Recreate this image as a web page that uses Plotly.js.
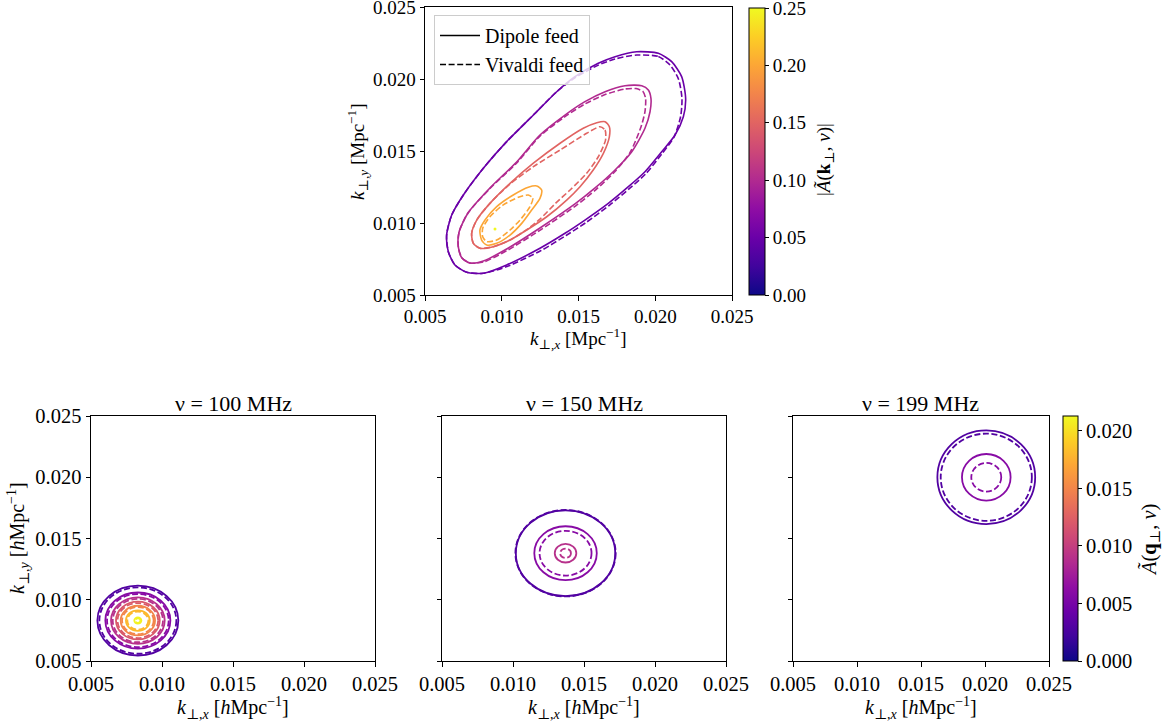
<!DOCTYPE html>
<html>
<head>
<meta charset="utf-8">
<script src="https://cdn.plot.ly/plotly-3.0.1.min.js"></script>
<style>html,body{margin:0;padding:0;background:#fff;}#chart{width:1166px;height:721px;}</style>
</head>
<body>
<div id="chart"></div>
<script>
// ---------- Top panel: contour levels of |A(k,nu)| ----------
const topLevels = [0.05, 0.10, 0.15, 0.20, 0.25];

// level 0.05
const dip05X = [0.01879,0.02020,0.02107,0.02172,0.02198,0.02183,0.02129,0.02042,0.01933,0.01825,0.01694,0.01542,0.01412,0.01249,0.01032,0.00880,0.00772,0.00695,0.00652,0.00641,0.00674,0.00750,0.00880,0.01032,0.01206,0.01358,0.01477,0.01629,0.01738,0.01879];
const dip05Y = [0.02191,0.02180,0.02122,0.02018,0.01867,0.01739,0.01612,0.01496,0.01357,0.01253,0.01137,0.01021,0.00929,0.00825,0.00709,0.00651,0.00658,0.00709,0.00801,0.00917,0.01056,0.01195,0.01381,0.01566,0.01751,0.01913,0.02018,0.02111,0.02157,0.02191];
const viv05X = [0.01879,0.02020,0.02096,0.02151,0.02174,0.02165,0.02122,0.02042,0.01937,0.01829,0.01699,0.01549,0.01419,0.01256,0.01034,0.00880,0.00772,0.00695,0.00652,0.00641,0.00674,0.00750,0.00880,0.01032,0.01206,0.01358,0.01477,0.01629,0.01738,0.01879];
const viv05Y = [0.02168,0.02158,0.02099,0.02002,0.01867,0.01739,0.01598,0.01480,0.01341,0.01237,0.01122,0.01004,0.00914,0.00809,0.00698,0.00651,0.00658,0.00709,0.00801,0.00917,0.01056,0.01195,0.01381,0.01566,0.01751,0.01913,0.02010,0.02098,0.02141,0.02168];

// level 0.10
const dip10X = [0.01912,0.01955,0.01972,0.01966,0.01933,0.01847,0.01738,0.01608,0.01477,0.01249,0.01032,0.00880,0.00793,0.00741,0.00717,0.00722,0.00780,0.00923,0.01097,0.01249,0.01412,0.01542,0.01673,0.01803,0.01912];
const dip10Y = [0.01955,0.01925,0.01867,0.01774,0.01659,0.01496,0.01369,0.01244,0.01133,0.00966,0.00820,0.00736,0.00722,0.00757,0.00834,0.00938,0.01070,0.01244,0.01425,0.01612,0.01751,0.01844,0.01913,0.01955,0.01955];
const viv10X = [0.01875,0.01920,0.01937,0.01933,0.01907,0.01836,0.01738,0.01614,0.01484,0.01256,0.01034,0.00880,0.00793,0.00741,0.00717,0.00722,0.00780,0.00923,0.01099,0.01249,0.01412,0.01542,0.01673,0.01803,0.01875];
const viv10Y = [0.01935,0.01915,0.01867,0.01774,0.01668,0.01491,0.01359,0.01233,0.01122,0.00955,0.00809,0.00729,0.00722,0.00757,0.00834,0.00938,0.01070,0.01240,0.01420,0.01605,0.01740,0.01828,0.01893,0.01932,0.01935];

// level 0.15
const dip15X = [0.01673,0.01701,0.01701,0.01662,0.01596,0.01510,0.01423,0.01293,0.01163,0.01054,0.00945,0.00858,0.00815,0.00804,0.00837,0.00923,0.01054,0.01206,0.01380,0.01531,0.01619,0.01673];
const dip15Y = [0.01705,0.01670,0.01600,0.01485,0.01369,0.01253,0.01160,0.01044,0.00952,0.00882,0.00836,0.00825,0.00859,0.00929,0.01021,0.01137,0.01276,0.01416,0.01555,0.01659,0.01698,0.01705];
const viv15X = [0.01640,0.01673,0.01676,0.01629,0.01553,0.01445,0.01353,0.01249,0.01163,0.01054,0.00945,0.00858,0.00815,0.00804,0.00837,0.00923,0.01054,0.01206,0.01380,0.01553,0.01640];
const viv15Y = [0.01670,0.01647,0.01577,0.01461,0.01346,0.01230,0.01140,0.01028,0.00955,0.00882,0.00836,0.00825,0.00859,0.00929,0.01021,0.01137,0.01272,0.01392,0.01508,0.01624,0.01670];

// level 0.20
const dip20X = [0.01228,0.01260,0.01249,0.01195,0.01130,0.01054,0.00967,0.00902,0.00869,0.00858,0.00891,0.00967,0.01075,0.01173,0.01228];
const dip20Y = [0.01258,0.01230,0.01172,0.01091,0.00998,0.00917,0.00859,0.00848,0.00882,0.00952,0.01021,0.01114,0.01195,0.01249,0.01258];
const viv20X = [0.01173,0.01202,0.01184,0.01119,0.01054,0.00967,0.00902,0.00876,0.00876,0.00923,0.01010,0.01108,0.01173];
const viv20Y = [0.01195,0.01172,0.01114,0.01021,0.00952,0.00882,0.00871,0.00905,0.00964,0.01044,0.01126,0.01179,0.01195];

// level 0.25 (tiny peak)
const dip25X = [0.00956];
const dip25Y = [0.00959];

// ---------- Bottom panels: contour levels of A(q,nu) ----------
const bottomLevels = [0.003, 0.006, 0.009, 0.012, 0.015, 0.018, 0.021];
const p100Center = [0.0083, 0.0083];
const p100DipoleR = [0.00285, 0.00229, 0.00189, 0.00154, 0.00121, 0.00084, 0.00025];
const p100VivaldiR = [0.00271, 0.00217, 0.00177, 0.00143, 0.00111, 0.00074, 0.00018];
const p150Center = [0.0137, 0.0138];
const p150DipoleR = [0.00350, 0.00220, 0.00076];
const p150VivaldiR = [0.00353, 0.00183, 0.00038];
const p199Center = [0.0201, 0.0200];
const p199DipoleR = [0.00382, 0.00190];
const p199VivaldiR = [0.00356, 0.00117];

const panelTitles = ['\u03BD = 100 MHz', '\u03BD = 150 MHz', '\u03BD = 199 MHz'];
const tickVals = [0.005, 0.010, 0.015, 0.020, 0.025];
const tickText = ['0.005', '0.010', '0.015', '0.020', '0.025'];
const topCbVals = [0, 0.05, 0.10, 0.15, 0.20, 0.25];
const topCbText = ['0.00', '0.05', '0.10', '0.15', '0.20', '0.25'];
const botCbVals = [0, 0.005, 0.010, 0.015, 0.020];
const botCbText = ['0.000', '0.005', '0.010', '0.015', '0.020'];
const topCmax = 0.25;
const botCmax = 0.0213;

// ---------- styling ----------
const FONT = 'Liberation Serif, DejaVu Serif, serif';
const plasma = [[0,'#0d0887'],[0.1,'#41049d'],[0.2,'#6a00a8'],[0.3,'#8f0da4'],[0.4,'#b12a90'],[0.5,'#cc4778'],[0.6,'#e16462'],[0.7,'#f2844b'],[0.8,'#fca636'],[0.9,'#fcce25'],[1,'#f0f921']];
const topColors = ['#6a00a8', '#b12a90', '#e16462', '#fca636', '#f0f921'];
const botColors = ['rgb(82,2,162)', 'rgb(136,11,165)', 'rgb(183,49,139)', 'rgb(217,89,106)', 'rgb(242,133,74)', 'rgb(252,184,46)', 'rgb(242,243,34)'];
const DASH = '6px,2.6px';

const traces = [];
function contourLine(x, y, color, dash) {
  traces.push({type:'scatter', mode:'lines', x:x, y:y, xaxis:'x', yaxis:'y',
    line:{color:color, width:1.6, dash:dash, shape:'spline', smoothing:0.7},
    hoverinfo:'skip', showlegend:false});
}
contourLine(dip05X, dip05Y, topColors[0], 'solid');
contourLine(viv05X, viv05Y, topColors[0], DASH);
contourLine(dip10X, dip10Y, topColors[1], 'solid');
contourLine(viv10X, viv10Y, topColors[1], DASH);
contourLine(dip15X, dip15Y, topColors[2], 'solid');
contourLine(viv15X, viv15Y, topColors[2], DASH);
contourLine(dip20X, dip20Y, topColors[3], 'solid');
contourLine(viv20X, viv20Y, topColors[3], DASH);
traces.push({type:'scatter', mode:'markers', x:dip25X, y:dip25Y, xaxis:'x', yaxis:'y',
  marker:{color:topColors[4], size:3}, hoverinfo:'skip', showlegend:false});

// legend entries
traces.push({type:'scatter', mode:'lines', x:[null], y:[null], xaxis:'x', yaxis:'y', name:'Dipole feed',
  line:{color:'black', width:1.6}});
traces.push({type:'scatter', mode:'lines', x:[null], y:[null], xaxis:'x', yaxis:'y', name:'Vivaldi feed',
  line:{color:'black', width:1.6, dash:DASH}});

// colorbar holders
traces.push({type:'scatter', mode:'markers', x:[null], y:[null], xaxis:'x', yaxis:'y',
  marker:{color:[0], coloraxis:'coloraxis'}, showlegend:false, hoverinfo:'skip'});
traces.push({type:'scatter', mode:'markers', x:[null], y:[null], xaxis:'x4', yaxis:'y4',
  marker:{color:[0], coloraxis:'coloraxis2'}, showlegend:false, hoverinfo:'skip'});
['x2','x3','x4'].forEach(function(ax, i){
  traces.push({type:'scatter', mode:'markers', x:[null], y:[null], xaxis:ax, yaxis:'y'+(i+2), showlegend:false, hoverinfo:'skip'});
});

const shapes = [];
function rings(center, radii, xref, yref, dash) {
  radii.forEach(function(r, i){
    shapes.push({type:'circle', xref:xref, yref:yref, layer:'above',
      x0:center[0]-r, x1:center[0]+r, y0:center[1]-r, y1:center[1]+r,
      line:{color:botColors[i], width:1.8, dash:dash}});
  });
}
rings(p100Center, p100DipoleR, 'x2', 'y2', 'solid');
rings(p100Center, p100VivaldiR, 'x2', 'y2', DASH);
rings(p150Center, p150DipoleR, 'x3', 'y3', 'solid');
rings(p150Center, p150VivaldiR, 'x3', 'y3', DASH);
rings(p199Center, p199DipoleR, 'x4', 'y4', 'solid');
rings(p199Center, p199VivaldiR, 'x4', 'y4', DASH);

function axis(domain, fsize, showLabels, anchor) {
  return {domain:domain, range:[0.005, 0.025], anchor:anchor, tickvals:tickVals, ticktext:tickText,
    ticks:'outside', ticklen:4.5, tickwidth:1, tickcolor:'black', showline:true, linecolor:'black',
    linewidth:1, mirror:true, showgrid:false, zeroline:false, showticklabels:showLabels,
    ticklabeloverflow:'allow', automargin:false,
    tickfont:{family:FONT, size:fsize, color:'black'}, fixedrange:true};
}
const H = 721, W = 1166;
const botY = [1 - 661/H, 1 - 416/H];
function ann(text, px, py, size, angle) {
  return {text:text, xref:'paper', yref:'paper', x:px/W, y:1 - py/H, xanchor:'center', yanchor:'middle',
    textangle:angle || 0, showarrow:false, font:{family:FONT, size:size, color:'black'}};
}
const layout = {
  width:W, height:H, margin:{l:0, r:0, t:0, b:0, autoexpand:false}, paper_bgcolor:'white', plot_bgcolor:'white',
  font:{family:FONT, color:'black'},
  xaxis: axis([425/W, 732/W], 19, true, 'y'),
  yaxis: axis([1 - 295/H, 1 - 7.3/H], 19, true, 'x'),
  xaxis2: axis([91/W, 375/W], 20.5, true, 'y2'),
  yaxis2: axis(botY, 20.5, true, 'x2'),
  xaxis3: axis([442/W, 726/W], 20.5, true, 'y3'),
  yaxis3: axis(botY, 20.5, false, 'x3'),
  xaxis4: axis([793/W, 1049/W], 20.5, true, 'y4'),
  yaxis4: axis(botY, 20.5, false, 'x4'),
  coloraxis: {colorscale:plasma, cmin:0, cmax:topCmax, showscale:true,
    colorbar:{thickness:16, thicknessmode:'pixels', len:287, lenmode:'pixels',
      x:749/W, xanchor:'left', y:1 - 295/H, yanchor:'bottom', xpad:0, ypad:0,
      outlinewidth:1, outlinecolor:'black', ticks:'outside', ticklen:4, tickcolor:'black',
      ticklabeloverflow:'allow',
      tickvals:topCbVals, ticktext:topCbText, tickfont:{family:FONT, size:19, color:'black'}}},
  coloraxis2: {colorscale:plasma, cmin:0, cmax:botCmax, showscale:true,
    colorbar:{thickness:15, thicknessmode:'pixels', len:245, lenmode:'pixels',
      x:1063/W, xanchor:'left', y:1 - 661/H, yanchor:'bottom', xpad:0, ypad:0,
      outlinewidth:1, outlinecolor:'black', ticks:'outside', ticklen:4, tickcolor:'black',
      ticklabeloverflow:'allow',
      tickvals:botCbVals, ticktext:botCbText, tickfont:{family:FONT, size:20.5, color:'black'}}},
  legend:{x:434/W, y:1 - 15/H, xanchor:'left', yanchor:'top', bgcolor:'rgba(255,255,255,0.8)',
    bordercolor:'#cccccc', borderwidth:1, font:{family:FONT, size:20, color:'black'}, tracegroupgap:0,
    itemwidth:40},
  showlegend:true,
  shapes:shapes,
  annotations:[
    ann('<i>k</i><sub>\u22A5,<i>x</i></sub> [Mpc<sup>\u22121</sup>]', 578, 338, 19),
    ann('<i>k</i><sub>\u22A5,<i>y</i></sub> [Mpc<sup>\u22121</sup>]', 357, 152, 19, -90),
    ann('|<i>\u00C3</i>(<b>k</b><sub>\u22A5</sub>, <i>\u03BD</i>)|', 825, 160, 19, -90),
    ann('<i>k</i><sub>\u22A5,<i>x</i></sub> [<i>h</i>Mpc<sup>\u22121</sup>]', 233, 708, 20),
    ann('<i>k</i><sub>\u22A5,<i>x</i></sub> [<i>h</i>Mpc<sup>\u22121</sup>]', 584, 708, 20),
    ann('<i>k</i><sub>\u22A5,<i>x</i></sub> [<i>h</i>Mpc<sup>\u22121</sup>]', 921, 708, 20),
    ann('<i>k</i><sub>\u22A5,<i>y</i></sub> [<i>h</i>Mpc<sup>\u22121</sup>]', 18, 538, 20, -90),
    ann('<i>\u00C3</i>(<b>q</b><sub>\u22A5</sub>, <i>\u03BD</i>)', 1150, 540, 20.5, -90),
    ann(panelTitles[0], 233, 403, 22),
    ann(panelTitles[1], 584, 403, 22),
    ann(panelTitles[2], 921, 403, 22)
  ]
};
Plotly.newPlot('chart', traces, layout, {displayModeBar:false, staticPlot:true});
</script>
</body>
</html>
